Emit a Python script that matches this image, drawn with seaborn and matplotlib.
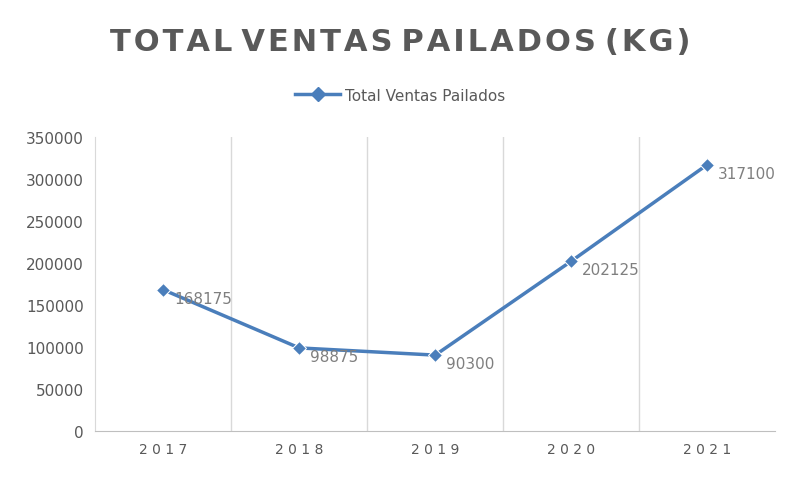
import matplotlib
matplotlib.use("Agg")
import matplotlib.pyplot as plt
import seaborn as sns
import pandas as pd

years = ["2017", "2018", "2019", "2020", "2021"]
values = [168175, 98875, 90300, 202125, 317100]
series_name = "Total Ventas Pailados"

df = pd.DataFrame({"pos": range(len(years)), "val": values, "serie": series_name})

fig = plt.figure(figsize=(8, 4.81), dpi=100)
ax = fig.add_axes([0.119, 0.102, 0.85, 0.611])
sns.lineplot(data=df, x="pos", y="val", hue="serie", palette=["#4a7ebb"],
             marker="D", markersize=7, linewidth=2.5, ax=ax, legend=False)

ax.set_xlim(-0.5, len(years) - 0.5)
ax.set_ylim(0, 350000)
ax.set_yticks(range(0, 350001, 50000))
ax.set_yticklabels([str(v) for v in range(0, 350001, 50000)], fontsize=11, color="#595959")
ax.set_xticks(range(len(years)))
ax.set_xticklabels([" ".join(y) for y in years], fontsize=10, color="#595959")
ax.tick_params(length=0, pad=8)
for b in [i + 0.5 for i in range(len(years) - 1)]:
    ax.axvline(b, color="#d9d9d9", lw=1, zorder=0)
for s in ["top", "right"]:
    ax.spines[s].set_visible(False)
ax.spines["left"].set_color("#d9d9d9")
ax.spines["bottom"].set_color("#bfbfbf")
ax.set_xlabel("")
ax.set_ylabel("")

for i, v in enumerate(values):
    ax.annotate(str(v), (i, v), xytext=(8, -6), textcoords="offset points",
                fontsize=11, color="#7f7f7f", va="center", ha="left")

fig.text(0.5, 0.912, "T O T A L   V E N T A S   P A I L A D O S   ( K G )".replace(" ", "\u200a"),
         ha="center", va="center", fontsize=22, fontweight="bold", color="#595959")
from matplotlib.lines import Line2D
h = Line2D([], [], color="#4a7ebb", lw=2.5, marker="D", markersize=7)
fig.legend([h], [series_name], loc="center", bbox_to_anchor=(0.5, 0.8), frameon=False,
           fontsize=11, labelcolor="#595959", handlelength=3, handletextpad=0.3)

fig.savefig("out.png", dpi=100)
